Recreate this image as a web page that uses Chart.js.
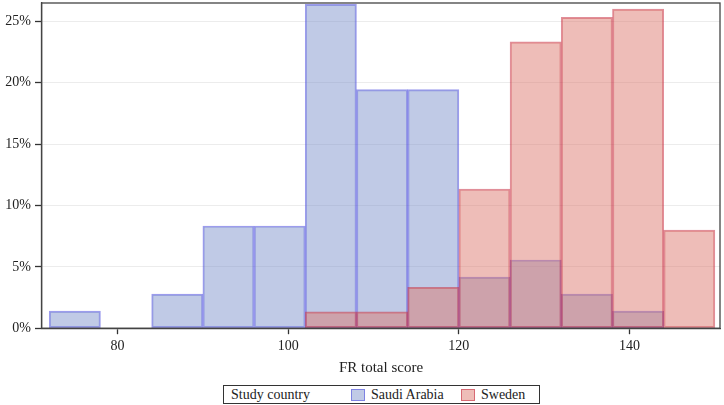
<!DOCTYPE html>
<html>
<head>
<meta charset="utf-8">
<script src="https://cdn.jsdelivr.net/npm/chart.js@4/dist/chart.umd.min.js"></script>
<style>
  html, body { margin: 0; padding: 0; background: #fff; }
  #wrap { position: relative; width: 724px; height: 405px; }
  #c { position: absolute; left: 0; top: 0; }
  #legend { position: absolute; left: 223px; top: 385px; width: 315px; height: 17px;
    border: 1px solid #333; font-family: 'Liberation Serif', serif; font-size: 14px; color: #222; }
  #legend span { position: absolute; top: 0px; line-height: 17px; white-space: nowrap; }
  #legend i { position: absolute; top: 3px; width: 12px; height: 10px; display: block; }
</style>
</head>
<body>
<div id="wrap">
  <canvas id="c" width="724" height="382"></canvas>
  <div id="legend">
    <span style="left:7px">Study country</span>
    <i style="left:127px;background:rgba(124,145,203,0.48);border:1px solid rgba(90,90,225,0.65)"></i>
    <span style="left:147px">Saudi Arabia</span>
    <i style="left:237px;background:rgba(220,118,107,0.48);border:1px solid rgba(200,50,70,0.6)"></i>
    <span style="left:257px">Sweden</span>
  </div>
</div>
<script>
const binWidth = 6;
const saudiBinStarts = [72, 78, 84, 90, 96, 102, 108, 114, 120, 126, 132, 138];
const saudiPercent = [1.39, 0, 2.78, 8.33, 8.33, 26.39, 19.44, 19.44, 4.17, 5.56, 2.78, 1.39];
const swedenBinStarts = [102, 108, 114, 120, 126, 132, 138, 144];
const swedenPercent = [1.33, 1.33, 3.33, 11.33, 23.33, 25.33, 26.0, 8.0];
const xTicks = [80, 100, 120, 140];
const yTicks = [0, 5, 10, 15, 20, 25];
const seriesNames = ['Saudi Arabia', 'Sweden'];

const toPoints = (starts, vals) => starts.map((s, i) => ({ x: s + binWidth / 2, y: vals[i] }));

const framePlugin = {
  id: 'frame',
  afterDraw(chart) {
    const { ctx, chartArea: a } = chart;
    ctx.save();
    ctx.strokeStyle = '#444';
    ctx.lineWidth = 1.3;
    ctx.strokeRect(a.left - 0.5, a.top, a.right - a.left + 0.5, a.bottom - a.top);
    ctx.restore();
  }
};

const serif = "'Liberation Serif', serif";

new Chart(document.getElementById('c'), {
  type: 'bar',
  data: {
    datasets: [
      {
        label: seriesNames[0],
        data: toPoints(saudiBinStarts, saudiPercent),
        backgroundColor: 'rgba(124,145,203,0.48)',
        borderColor: 'rgba(90,90,225,0.6)',
        borderWidth: 1.3,
        borderSkipped: false,
        order: 2
      },
      {
        label: seriesNames[1],
        data: toPoints(swedenBinStarts, swedenPercent),
        backgroundColor: 'rgba(220,118,107,0.48)',
        borderColor: 'rgba(200,50,70,0.55)',
        borderWidth: 1.3,
        borderSkipped: false,
        order: 1
      }
    ]
  },
  options: {
    responsive: false,
    animation: false,
    layout: { padding: { top: 3, right: 4, left: 0, bottom: 0 } },
    datasets: { bar: { barPercentage: 1, categoryPercentage: 1, grouped: false } },
    plugins: { legend: { display: false }, tooltip: { enabled: false } },
    scales: {
      x: {
        type: 'linear',
        min: 71.15,
        max: 150.6,
        offset: false,
        afterBuildTicks(scale) { scale.ticks = xTicks.map(v => ({ value: v })); },
        afterFit(scale) { scale.paddingLeft = 0; scale.paddingRight = 0; },
        grid: { display: true, offset: false, drawOnChartArea: false, drawTicks: true, tickLength: 6, tickColor: '#333', tickWidth: 1.3 },
        border: { display: true, color: '#444', width: 1.3 },
        ticks: { font: { family: serif, size: 14 }, color: '#222', padding: 4, maxRotation: 0 },
        title: { display: true, text: 'FR total score', font: { family: serif, size: 15 }, color: '#222', padding: { top: 0, bottom: 5 } }
      },
      y: {
        min: 0,
        max: 26.5,
        afterBuildTicks(scale) { scale.ticks = yTicks.map(v => ({ value: v })); },
        afterFit(scale) { scale.width = 42; scale.paddingTop = 0; scale.paddingBottom = 0; },
        grid: { color: '#ececec', lineWidth: 1, drawTicks: true, tickLength: 7, tickColor: '#333', tickWidth: 1.3 },
        border: { display: true, color: '#444', width: 1.3 },
        ticks: { font: { family: serif, size: 14 }, color: '#222', padding: 4, callback: v => v + '%' }
      }
    }
  },
  plugins: [framePlugin]
});
</script>
</body>
</html>
